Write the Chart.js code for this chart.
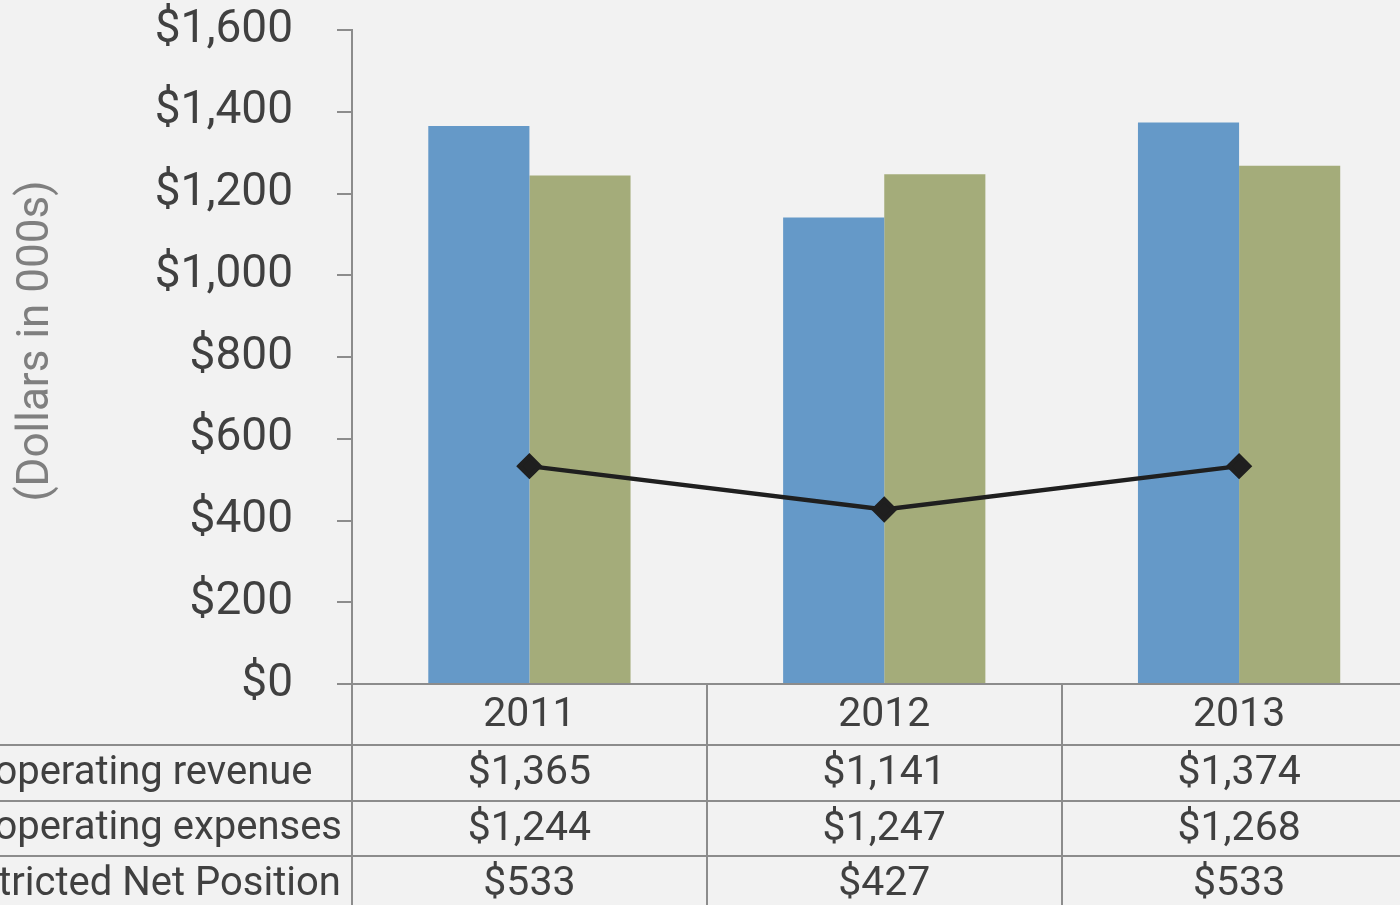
<!DOCTYPE html>
<html>
<head>
<meta charset="utf-8">
<script src="https://cdn.jsdelivr.net/npm/chart.js@4"></script>
<style>
    html, body { margin: 0; padding: 0; background: #f2f2f2; overflow: hidden; }
    #wrap { position: absolute; left: 0; top: 0; width: 1431px; height: 905px; }
</style>
</head>
<body>
<div id="wrap"><canvas id="finChart" width="1431" height="905"></canvas></div>
<script>
var years = ["2011", "2012", "2013"];
var revenue = [1365, 1141, 1374];
var expenses = [1244, 1247, 1268];
var netPosition = [533, 427, 533];
var rowNames = ["Total operating revenue", "Total operating expenses", "Unrestricted Net Position"];
var yTicks = [0, 200, 400, 600, 800, 1000, 1200, 1400, 1600];
var yTitle = '(Dollars in 000s)';

var lineGray = '#8c8c8c';
var textDark = '#404040';
var fontName = 'Roboto';

function money(v) {
    return '$' + v.toLocaleString('en-US');
}

// data table under the plot, laid out from the x scale
var tablePlugin = {
    id: 'dataTable',
    afterDraw: function (chart) {
        var ctx = chart.ctx;
        var xs = chart.scales.x;
        var area = chart.chartArea;
        var rows = [revenue, expenses, netPosition];
        var yearRowH = 61;
        var rowH = 55.5;
        var top = area.bottom;
        var half = (xs.getPixelForValue(1) - xs.getPixelForValue(0)) / 2;

        ctx.save();
        ctx.strokeStyle = lineGray;
        ctx.lineWidth = 2;

        // horizontal lines
        for (var r = 0; r < rows.length; r++) {
            var ly = Math.round(top + yearRowH + r * rowH);
            ctx.beginPath();
            ctx.moveTo(0, ly);
            ctx.lineTo(chart.width, ly);
            ctx.stroke();
        }
        // vertical lines
        ctx.beginPath();
        ctx.moveTo(area.left, top);
        ctx.lineTo(area.left, chart.height);
        ctx.stroke();
        for (var i = 1; i < years.length; i++) {
            var vx = Math.round(xs.getPixelForValue(i) - half);
            ctx.beginPath();
            ctx.moveTo(vx, top);
            ctx.lineTo(vx, chart.height);
            ctx.stroke();
        }

        ctx.fillStyle = textDark;
        ctx.font = '41px ' + fontName;
        ctx.textBaseline = 'middle';
        ctx.textAlign = 'center';
        for (var i = 0; i < years.length; i++) {
            var cx = xs.getPixelForValue(i);
            ctx.fillText(years[i], cx, top + yearRowH / 2 + 1);
            for (var r = 0; r < rows.length; r++) {
                ctx.fillText(money(rows[r][i]), cx, top + yearRowH + r * rowH + rowH / 2 + 1);
            }
        }

        // row names: left aligned, the start runs off the left edge
        ctx.font = '40px ' + fontName;
        ctx.textAlign = 'left';
        var labelX = area.left - 10 - ctx.measureText(rowNames[1]).width;
        for (var r = 0; r < rowNames.length; r++) {
            ctx.fillText(rowNames[r], labelX, top + yearRowH + r * rowH + rowH / 2 + 1);
        }

        // axis title
        ctx.save();
        ctx.translate(37, 341);
        ctx.rotate(-Math.PI / 2);
        ctx.textAlign = 'center';
        ctx.fillStyle = '#7f7f7f';
        ctx.font = '44px ' + fontName;
        ctx.fillText(yTitle, 0, 0);
        ctx.restore();

        ctx.restore();
    }
};

document.addEventListener('DOMContentLoaded', function () {
    Chart.defaults.font.family = fontName;

    var finChart = new Chart(document.getElementById("finChart"), {
        type: 'bar',
        data: {
            labels: years,
            datasets: [{
                type: 'line',
                label: rowNames[2],
                data: netPosition,
                borderColor: '#1f1f1f',
                backgroundColor: '#1f1f1f',
                borderWidth: 4.5,
                pointStyle: 'rectRot',
                pointRadius: 10,
                pointHoverRadius: 10,
                tension: 0,
                order: 0
            }, {
                label: rowNames[0],
                data: revenue,
                backgroundColor: '#6599c8',
                categoryPercentage: 0.57,
                barPercentage: 1.0,
                order: 1
            }, {
                label: rowNames[1],
                data: expenses,
                backgroundColor: '#a4ac7a',
                categoryPercentage: 0.57,
                barPercentage: 1.0,
                order: 1
            }]
        },
        options: {
            responsive: false,
            animation: false,
            devicePixelRatio: 1,
            layout: { padding: { top: 30, bottom: 221, left: 0, right: 12 } },
            plugins: {
                legend: { display: false },
                tooltip: { enabled: false }
            },
            scales: {
                x: {
                    ticks: { display: false },
                    grid: { display: false },
                    border: { display: true, color: lineGray, width: 2 },
                    afterFit: function (scale) { scale.height = 0; }
                },
                y: {
                    min: 0,
                    max: 1600,
                    afterBuildTicks: function (scale) {
                        scale.ticks = yTicks.map(function (v) { return { value: v }; });
                    },
                    ticks: {
                        padding: 44,
                        color: textDark,
                        font: { size: 46, family: fontName },
                        callback: function (v) { return money(v); }
                    },
                    grid: {
                        drawOnChartArea: false,
                        drawTicks: true,
                        tickLength: 15,
                        color: lineGray,
                        lineWidth: 2
                    },
                    border: { display: true, color: lineGray, width: 2 },
                    afterFit: function (scale) {
                        scale.width = 352;
                        scale.paddingTop = 0;
                        scale.paddingBottom = 0;
                    }
                }
            }
        },
        plugins: [tablePlugin]
    });
});
</script>
</body>
</html>
